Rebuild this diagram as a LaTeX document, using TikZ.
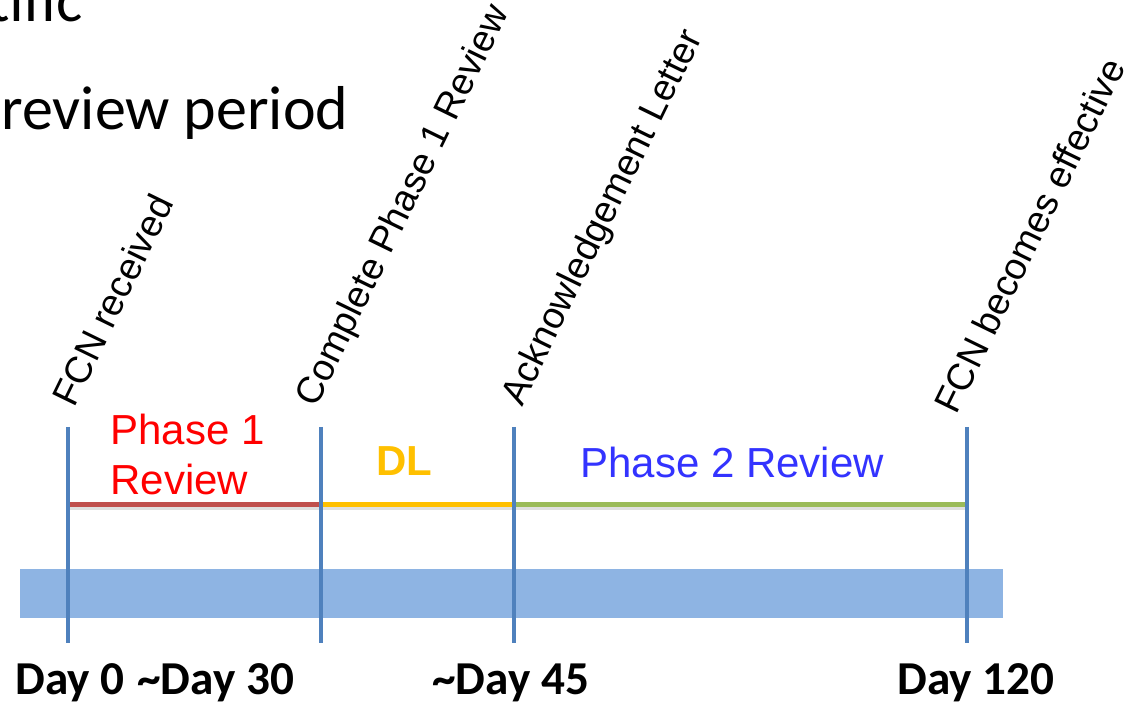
\documentclass[tikz,border=0pt]{standalone}
\usepackage{fontspec}
\setmainfont{Liberation Sans}
\newfontfamily\calibri{Carlito}

\definecolor{tickblue}{HTML}{4F81BD}
\definecolor{barblue}{HTML}{8EB4E3}
\definecolor{redline}{HTML}{C0504D}
\definecolor{dlyellow}{HTML}{FFC000}
\definecolor{greenline}{HTML}{9BBB59}
\definecolor{phaseblue}{HTML}{3333FF}

\begin{document}
\begin{tikzpicture}[
  x=0.5pt, y=0.5pt,
  daytick/.style={draw=tickblue, line width=2pt},
  phaseline/.style={line width=2.2pt},
  shadowline/.style={draw=black!12, line width=2pt},
  event/.style={rotate=64, anchor=base west, inner sep=0pt, font=\fontsize{18.7}{18.7}\selectfont},
  daylabel/.style={anchor=base west, inner sep=0pt, font=\calibri\bfseries\fontsize{23.6}{23.6}\selectfont},
  phaselabel/.style={inner sep=0pt, font=\fontsize{21}{25}\selectfont}
]
\useasboundingbox (0,0) rectangle (1131,705);
\clip (0,0) rectangle (1131,705);

% Slide text cut off at the top left
\node[anchor=base east, inner sep=0pt, font=\calibri\fontsize{31}{31}\selectfont] (tific) at (83,683) {tific};
\node[anchor=base west, inner sep=0pt, font=\calibri\fontsize{31}{31}\selectfont] (period) at (1,575) {review period};

% Timeline bar
\fill[barblue] (20,87) rectangle (1003,136);

% Tick ends and phase line points
\coordinate (t0) at (68,278);  \coordinate (b0) at (68,62);
\coordinate (t1) at (321,278); \coordinate (b1) at (321,62);
\coordinate (t2) at (514,278); \coordinate (b2) at (514,62);
\coordinate (t3) at (967,278); \coordinate (b3) at (967,62);
\coordinate (p0) at (68,200.5);
\coordinate (p1) at (321,200.5);
\coordinate (p2) at (514,200.5);
\coordinate (p3) at (967,200.5);

% Phase lines with their shadow
\draw[shadowline] ([yshift=-2pt]p0) -- ([yshift=-2pt]p3);
\draw[phaseline, draw=redline] (p0) -- (p1);
\draw[phaseline, draw=dlyellow] (p1) -- (p2);
\draw[phaseline, draw=greenline] (p2) -- (p3);

% Day ticks
\draw[daytick] (t0) -- (b0);
\draw[daytick] (t1) -- (b1);
\draw[daytick] (t2) -- (b2);
\draw[daytick] (t3) -- (b3);

% Phase labels
\node[phaselabel, text=red, align=left, anchor=north west] (phase1) at (110,291) {Phase 1\\Review};
\node[phaselabel, font=\bfseries\fontsize{21}{25}\selectfont, text=dlyellow, anchor=base] (dl) at (404,229) {DL};
\node[phaselabel, text=phaseblue, anchor=base west] (phase2) at (580,227) {Phase 2 Review};

% Events above the ticks
\node[event] (received) at (74,296) {FCN received};
\node[event] (complete) at (316,296) {Complete Phase 1 Review};
\node[event] (ackletter) at (522,297) {Acknowledgement Letter};
\node[event] (effective) at (956,289) {FCN becomes effective};

% Day labels under the ticks
\node[daylabel] (day0) at (15,10) {Day 0};
\node[daylabel] (day30) at (137,10) {\textasciitilde Day 30};
\node[daylabel] (day45) at (432,10) {\textasciitilde Day 45};
\node[daylabel] (day120) at (897,10) {Day 120};

\end{tikzpicture}
\end{document}
